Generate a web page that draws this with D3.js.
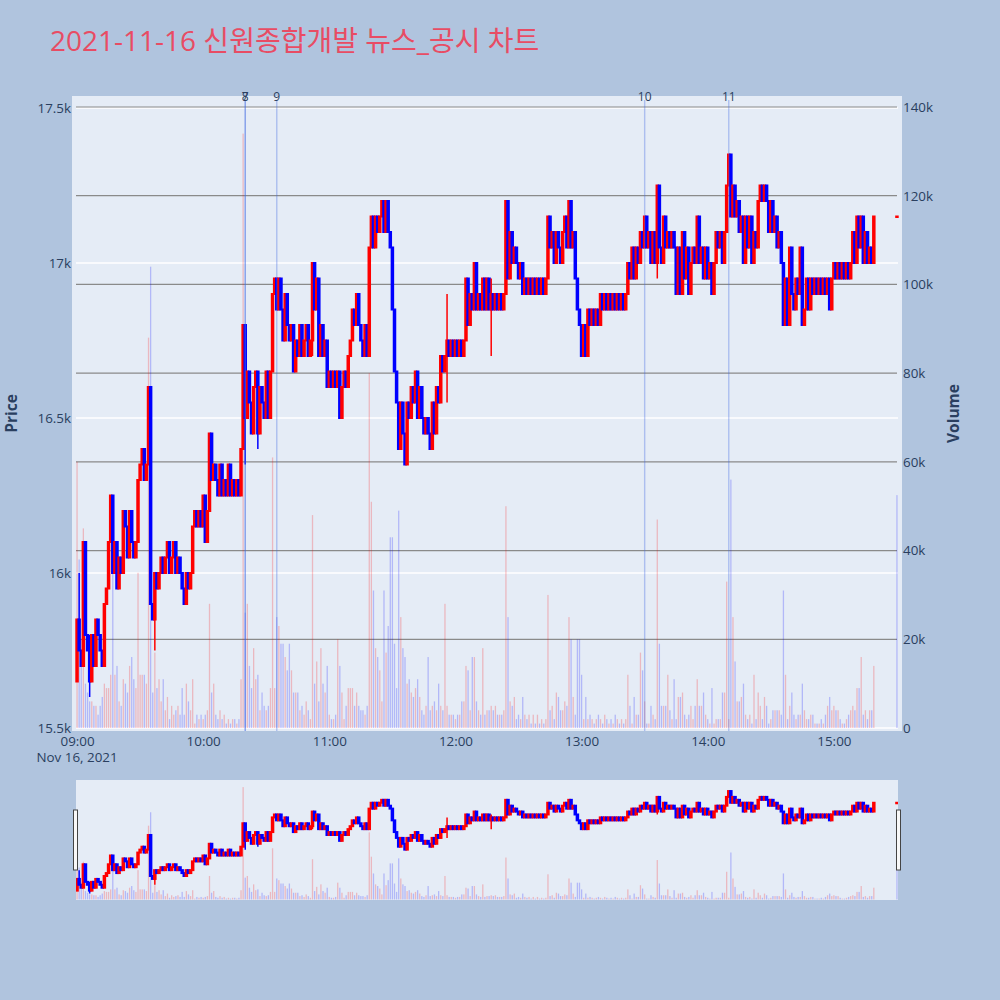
<!DOCTYPE html>
<html>
<head>
<meta charset="utf-8">
<script src="https://cdn.jsdelivr.net/npm/d3@7"></script>
<style>
  body { margin: 0; background: #b0c4de; }
  svg text { font-family: "Open Sans", "Noto Sans CJK KR", sans-serif; }
</style>
</head>
<body>
<svg id="chart"></svg>
<script>
// ---- data ----
const tradeDate = "2021-11-16";
const firstBarTime = "09:00";
const firstOpen = 15650;

// 1-minute closes, 09:00 .. 15:19 (open of each bar = previous close)
const closes = [
  15850, 15750, 15700, 16100, 15800, 15750, 15650, 15800, 15700, 15850,
  15800, 15750, 15700, 15900, 15950, 16100, 16250, 16000, 16100, 15950,
  16050, 16000, 16200, 16150, 16050, 16200, 16100, 16050, 16100, 16300,
  16350, 16400, 16300, 16350, 16600, 15900, 15850, 16000, 15950, 16000,
  16050, 16000, 16050, 16100, 16000, 16050, 16100, 16000, 16050, 16000,
  15950, 15900, 16000, 15950, 16000, 16150, 16200, 16150, 16200, 16150,
  16250, 16100, 16200, 16450, 16300, 16350, 16300, 16250, 16350, 16250,
  16300, 16250, 16350, 16250, 16300, 16250, 16300, 16250, 16400, 16800,
  16500, 16650, 16550, 16450, 16600, 16650, 16450, 16600, 16550, 16500,
  16650, 16500, 16650, 16900, 16950, 16850, 16950, 16850, 16750, 16900,
  16800, 16750, 16800, 16650, 16750, 16700, 16800, 16700, 16750, 16800,
  16700, 16750, 17000, 16850, 16950, 16700, 16800, 16700, 16750, 16600,
  16650, 16600, 16650, 16600, 16650, 16500, 16600, 16650, 16600, 16700,
  16750, 16850, 16800, 16900, 16800, 16750, 16700, 16800, 16700, 17050,
  17150, 17050, 17150, 17100, 17150, 17200, 17100, 17200, 17100, 17050,
  16850, 16650, 16550, 16400, 16550, 16450, 16350, 16550, 16500, 16600,
  16550, 16650, 16500, 16600, 16500, 16450, 16500, 16450, 16400, 16550,
  16450, 16600, 16550, 16700, 16650, 16700, 16750, 16700, 16750, 16700,
  16750, 16700, 16750, 16700, 16750, 16950, 16800, 16900, 16850, 17000,
  16850, 16900, 16850, 16950, 16850, 16950, 16850, 16900, 16850, 16900,
  16850, 16900, 16850, 16900, 17200, 16950, 17100, 17000, 17050, 17000,
  16950, 17000, 16900, 16950, 16900, 16950, 16900, 16950, 16900, 16950,
  16900, 16950, 16900, 16950, 17150, 17050, 17100, 17000, 17100, 17050,
  17000, 17100, 17150, 17050, 17200, 17050, 17100, 16950, 16850, 16800,
  16700, 16800, 16700, 16850, 16800, 16850, 16800, 16850, 16800, 16900,
  16850, 16900, 16850, 16900, 16850, 16900, 16850, 16900, 16850, 16900,
  16850, 16900, 17000, 16950, 17050, 16950, 17050, 17000, 17100, 17050,
  17150, 17050, 17100, 17000, 17100, 17000, 17250, 17050, 17000, 17150,
  17050, 17100, 17050, 17100, 17050, 16900, 17050, 16900, 17100, 16950,
  17050, 16900, 17000, 17050, 17000, 17150, 17000, 17050, 16950, 17050,
  16950, 17000, 16900, 17000, 17100, 17050, 17100, 17000, 17100, 17250,
  17350, 17150, 17250, 17150, 17200, 17100, 17150, 17000, 17150, 17050,
  17150, 17000, 17100, 17050, 17200, 17250, 17200, 17250, 17200, 17100,
  17200, 17100, 17150, 17050, 17100, 17000, 16800, 16950, 16800, 17050,
  16900, 16850, 16950, 16900, 17050, 16800, 16850, 16950, 16850, 16950,
  16900, 16950, 16900, 16950, 16900, 16950, 16900, 16950, 16850, 16950,
  17000, 16950, 17000, 16950, 17000, 16950, 17000, 16950, 17000, 17100,
  17000, 17150, 17050, 17150, 17000, 17100, 17000, 17050, 17000, 17150
];

// 1-minute volume in thousands of shares, 09:00 .. 15:19
const volumesK = [
  60, 38, 20, 45, 10, 8, 6, 6, 5, 5,
  3, 5, 7, 10, 9, 9, 12, 52, 12, 14,
  6, 5, 11, 10, 8, 14, 16, 11, 9, 35,
  12, 12, 12, 10, 88, 104, 8, 17, 9, 11,
  6, 11, 4, 7, 2, 5, 3, 4, 5, 3,
  9, 3, 10, 6, 4, 11, 1, 3, 2, 3,
  2, 3, 4, 28, 8, 10, 3, 2, 4, 2,
  3, 1, 2, 1, 2, 2, 1, 2, 11, 134,
  26, 28, 14, 9, 18, 11, 12, 4, 8, 5,
  4, 5, 9, 61, 9, 25, 23, 19, 19, 16,
  13, 19, 13, 8, 8, 8, 4, 5, 3, 6,
  4, 2, 48, 10, 15, 6, 18, 10, 8, 14,
  3, 2, 2, 3, 20, 14, 8, 2, 5, 9,
  9, 9, 5, 8, 5, 4, 4, 3, 5, 80,
  51, 31, 18, 16, 13, 6, 31, 17, 23, 43,
  43, 19, 9, 49, 25, 18, 16, 10, 11, 8,
  7, 9, 11, 7, 4, 3, 5, 16, 4, 5,
  6, 4, 10, 5, 4, 28, 5, 3, 3, 3,
  2, 3, 3, 6, 6, 14, 13, 4, 16, 16,
  6, 4, 3, 18, 3, 4, 4, 5, 4, 5,
  3, 3, 3, 4, 50, 25, 6, 5, 7, 2,
  3, 2, 7, 3, 2, 3, 1, 3, 1, 3,
  1, 2, 1, 2, 30, 4, 5, 2, 8, 7,
  4, 4, 6, 5, 25, 20, 7, 3, 20, 20,
  12, 2, 7, 2, 3, 2, 1, 2, 3, 2,
  1, 3, 2, 1, 2, 1, 3, 2, 1, 2,
  1, 2, 12, 5, 1, 7, 3, 3, 17, 13,
  6, 1, 1, 5, 3, 2, 47, 19, 5, 5,
  5, 12, 4, 2, 11, 2, 7, 7, 8, 3,
  2, 3, 5, 2, 5, 11, 5, 5, 8, 3,
  2, 1, 9, 1, 2, 2, 2, 8, 8, 33,
  2, 56, 25, 15, 6, 6, 7, 10, 3, 2,
  3, 1, 12, 2, 8, 5, 2, 7, 5, 1,
  2, 4, 4, 4, 4, 3, 31, 12, 2, 5,
  8, 3, 2, 3, 3, 10, 4, 2, 2, 3,
  3, 1, 1, 1, 2, 1, 3, 5, 7, 4,
  5, 4, 4, 2, 1, 1, 2, 3, 4, 5,
  4, 9, 9, 16, 3, 4, 2, 4, 4, 14
];

// closing auction bar
const auctionTime = "15:30";
const auctionPrice = 17150;
const auctionVolumeK = 52.5;

// visible wicks: [minute index, high, low]
const wicks = [
  [1, 16000, 15750], [6, 15800, 15600], [37, 16000, 15750],
  [80, 16800, 16350], [86, 16650, 16400], [112, 17000, 16700],
  [176, 16900, 16550], [197, 16950, 16700], [276, 17250, 16950]
];

const newsTimes = ["10:20", "10:20", "10:35", "13:30", "14:10"];
const newsLabels = ["7", "8", "9", "10", "11"];

const priceTicks = [15500, 16000, 16500, 17000, 17500];
const volumeTicks = [0, 20000, 40000, 60000, 80000, 100000, 120000, 140000];
const timeTicks = ["09:00", "10:00", "11:00", "12:00", "13:00", "14:00", "15:00"];

// ---- layout ----
const W = 1000, H = 1000;
const bgL = 72, bgR = 902;              // plot background
const plotL = 76, plotR = 898, plotT = 96, plotB = 731;
const sliderT = 780, sliderB = 900;
const UP = "#ff0000", DOWN = "#0000ff";
const tickFont = 13.4, ink = "#2a3f5f";

const parseTime = d3.timeParse("%Y-%m-%d %H:%M");
const start = parseTime(tradeDate + " " + firstBarTime);
const endBar = parseTime(tradeDate + " " + auctionTime);

const bars = closes.map((c, i) => {
  const o = i === 0 ? firstOpen : closes[i - 1];
  return { t: d3.timeMinute.offset(start, i), o, c, h: Math.max(o, c), l: Math.min(o, c), v: volumesK[i] * 1000 };
});
wicks.forEach(([i, h, l]) => { bars[i].h = Math.max(bars[i].h, h); bars[i].l = Math.min(bars[i].l, l); });
bars.push({ t: endBar, o: closes[closes.length - 1], c: auctionPrice,
  h: auctionPrice, l: auctionPrice, v: auctionVolumeK * 1000 });

const svg = d3.select("#chart").attr("width", W).attr("height", H);
svg.append("rect").attr("width", W).attr("height", H).attr("fill", "#b0c4de");

// scales
const x = d3.scaleTime()
  .domain([d3.timeSecond.offset(start, -30), d3.timeSecond.offset(endBar, 30)])
  .range([plotL, plotR]);
const yPrice = d3.scaleLinear().domain([15500, 17500]).range([728, 108]);
const yVol = d3.scaleLinear().domain([0, 140000]).range([728, 107]);

// title
svg.append("text")
  .attr("x", 50).attr("y", 51)
  .attr("font-size", 28)
  .attr("fill", "#e84c64")
  .text("2021-11-16 신원종합개발 뉴스_공시 차트");

// plot background
svg.append("rect")
  .attr("x", bgL).attr("y", plotT)
  .attr("width", bgR - bgL).attr("height", plotB - plotT)
  .attr("fill", "#e5ecf6");

const defs = svg.append("defs");
defs.append("clipPath").attr("id", "clipMain").append("rect")
  .attr("x", bgL).attr("y", plotT).attr("width", bgR - bgL).attr("height", plotB - plotT);
defs.append("clipPath").attr("id", "clipSlider").append("rect")
  .attr("x", plotL).attr("y", sliderT).attr("width", plotR - plotL).attr("height", sliderB - sliderT);

// price grid (white)
svg.append("g").selectAll("line")
  .data(priceTicks)
  .join("line")
  .attr("x1", plotL).attr("x2", plotR)
  .attr("y1", d => yPrice(d)).attr("y2", d => yPrice(d))
  .attr("stroke", "#ffffff").attr("stroke-width", 1.3);

// volume grid (gray)
svg.append("g").selectAll("line")
  .data(volumeTicks.filter(d => d > 0))
  .join("line")
  .attr("x1", plotL).attr("x2", plotR - 1)
  .attr("y1", d => yVol(d)).attr("y2", d => yVol(d))
  .attr("stroke", "#8a8a8a").attr("stroke-width", 1.2);

function drawBars(g, xs, yp, yv) {
  g.append("g").selectAll("rect")
    .data(bars)
    .join("rect")
    .attr("x", d => xs(d.t) - 0.65)
    .attr("width", 1.3)
    .attr("y", d => yv(d.v))
    .attr("height", d => yv(0) - yv(d.v))
    .attr("fill", d => d.c > d.o ? UP : DOWN)
    .attr("fill-opacity", 0.22);

  const candles = g.append("g").selectAll("g")
    .data(bars)
    .join("g")
    .attr("stroke", d => d.c >= d.o ? UP : DOWN)
    .attr("fill", d => d.c >= d.o ? UP : DOWN);

  candles.append("line")
    .attr("x1", d => xs(d.t)).attr("x2", d => xs(d.t))
    .attr("y1", d => yp(d.h)).attr("y2", d => yp(d.l))
    .attr("stroke-width", 1.5);

  candles.append("rect")
    .attr("x", d => xs(d.t) - 0.75)
    .attr("width", 1.5)
    .attr("y", d => yp(Math.max(d.o, d.c)))
    .attr("height", d => Math.max(0.5, Math.abs(yp(d.o) - yp(d.c))))
    .attr("stroke-width", 2);
}

drawBars(svg.append("g").attr("clip-path", "url(#clipMain)"), x, yPrice, yVol);

// news markers
const news = newsTimes.map((t, i) => ({ t: parseTime(tradeDate + " " + t), label: newsLabels[i] }));
const newsG = svg.append("g");
newsG.selectAll("line")
  .data(news)
  .join("line")
  .attr("x1", d => x(d.t)).attr("x2", d => x(d.t))
  .attr("y1", plotT + 4).attr("y2", plotB)
  .attr("stroke", "royalblue")
  .attr("stroke-opacity", 0.35)
  .attr("stroke-width", 1.4);
newsG.selectAll("text")
  .data(news)
  .join("text")
  .attr("x", d => x(d.t)).attr("y", plotT + 5)
  .attr("text-anchor", "middle")
  .attr("font-size", 12)
  .attr("fill", ink)
  .text(d => d.label);

// axes
const fmt = d3.format("~s");
const leftAxis = svg.append("g")
  .attr("transform", `translate(${bgL - 1},0)`)
  .call(d3.axisLeft(yPrice).tickValues(priceTicks).tickFormat(fmt).tickSize(0).tickPadding(0));
leftAxis.select(".domain").remove();

const rightAxis = svg.append("g")
  .attr("transform", `translate(${bgR},0)`)
  .call(d3.axisRight(yVol).tickValues(volumeTicks).tickFormat(fmt).tickSize(0).tickPadding(1));
rightAxis.select(".domain").remove();

const bottomAxis = svg.append("g")
  .attr("transform", `translate(0,${plotB})`)
  .call(d3.axisBottom(x)
    .tickValues(timeTicks.map(t => parseTime(tradeDate + " " + t)))
    .tickFormat(d3.timeFormat("%H:%M"))
    .tickSize(0).tickPadding(5));
bottomAxis.select(".domain").remove();

[leftAxis, rightAxis, bottomAxis].forEach(a => a.selectAll("text")
  .attr("font-size", tickFont)
  .attr("fill", ink)
  .attr("font-family", "'Open Sans', sans-serif"));

svg.append("text")
  .attr("x", x(start)).attr("y", 762)
  .attr("text-anchor", "middle")
  .attr("font-size", tickFont).attr("fill", ink)
  .text("Nov 16, 2021");

svg.append("text")
  .attr("transform", `translate(17,${(plotT + plotB) / 2}) rotate(-90)`)
  .attr("text-anchor", "middle")
  .attr("font-size", 15.5).attr("font-weight", "bold").attr("fill", ink)
  .text("Price");

svg.append("text")
  .attr("transform", `translate(959,${(plotT + plotB) / 2}) rotate(-90)`)
  .attr("text-anchor", "middle")
  .attr("font-size", 15.5).attr("font-weight", "bold").attr("fill", ink)
  .text("Volume");

// range slider
svg.append("rect")
  .attr("x", plotL).attr("y", sliderT)
  .attr("width", plotR - plotL).attr("height", sliderB - sliderT)
  .attr("fill", "#e5ecf6");

const ySliderPrice = d3.scaleLinear()
  .domain([yPrice.invert(plotB), yPrice.invert(plotT)])
  .range([sliderB, sliderT]);
const ySliderVol = d3.scaleLinear()
  .domain([yVol.invert(plotB), yVol.invert(plotT)])
  .range([sliderB, sliderT]);

drawBars(svg.append("g").attr("clip-path", "url(#clipSlider)"), x, ySliderPrice, ySliderVol);

svg.append("g").selectAll("rect")
  .data([plotL - 2.5, plotR - 1.5])
  .join("rect")
  .attr("x", d => d).attr("y", 810)
  .attr("width", 4).attr("height", 60)
  .attr("fill", "#f8f8f8").attr("stroke", "#444").attr("stroke-width", 1);
</script>
</body>
</html>
